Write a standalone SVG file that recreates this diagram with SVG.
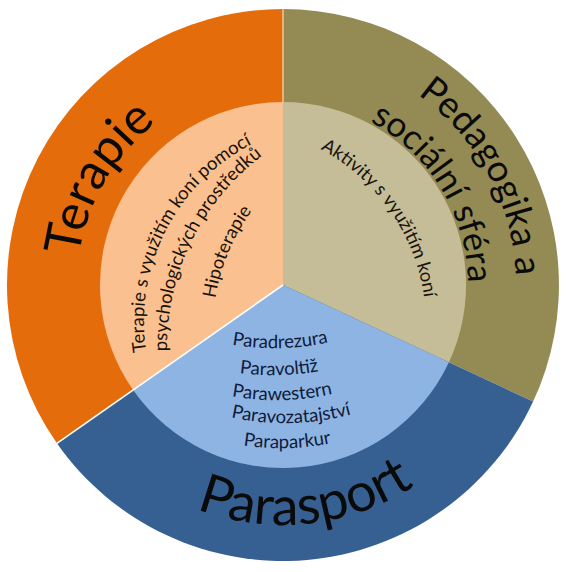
<svg xmlns="http://www.w3.org/2000/svg" xmlns:xlink="http://www.w3.org/1999/xlink" width="569" height="572" viewBox="0 0 569 572">
<style>
.lbl{font-family:Lato,"Open Sans","Liberation Sans",sans-serif;}
.outer{fill:#0a0a0a;}
.inner{fill:#1a1208;font-size:18.5px;}
.blue{fill:#0f1b3a;font-size:18.5px;}
</style>
<defs>
<path id="tp-terapie" d="M89.4,355.5 A206,206 0 0 1 247.2,82.1"/>
<path id="tp-ped" d="M329.5,56.7 A233,233 0 0 1 499.8,370.4"/>
<path id="tp-soc" d="M311,102.1 A185,185 0 0 1 458.2,344.3"/>
<path id="tp-para" d="M101.9,442.5 A240,240 0 0 0 492.9,401.4"/>
<path id="tp-i1" d="M147,356 A200,200 0 0 1 256,142"/>
<path id="tp-i2" d="M168,368 A240,240 0 0 1 276,146"/>
<path id="tp-i3" d="M215,302 A200,200 0 0 1 254,208"/>
<path id="tp-akt" d="M322,150 A200,200 0 0 1 424,296"/>
<path id="tp-b1" d="M200,337 A250,250 0 0 0 360,333"/>
<path id="tp-b2" d="M199,364 A250,250 0 0 0 359,360"/>
<path id="tp-b3" d="M202,389 A250,250 0 0 0 362,385"/>
<path id="tp-b4" d="M211,412 A250,250 0 0 0 371,408"/>
<path id="tp-b5" d="M207,437 A250,250 0 0 0 367,433"/>
</defs>
<rect width="569" height="572" fill="#ffffff"/>

<g id="terapie">
<path d="M283,285 L56.9,443.3 A276,276 0 0 1 283,9 Z" fill="#E46C0A"/>
<path d="M283,285 L133.1,390 A183,183 0 0 1 283,102 Z" fill="#FAC08F"/>
<text class="lbl outer" font-size="50"><textPath xlink:href="#tp-terapie" href="#tp-terapie" startOffset="50%" text-anchor="middle">Terapie</textPath></text>
<text class="lbl inner"><textPath xlink:href="#tp-i1" href="#tp-i1" startOffset="50%" text-anchor="middle">Terapie s využitím koní pomocí</textPath></text>
<text class="lbl inner"><textPath xlink:href="#tp-i2" href="#tp-i2" startOffset="50%" text-anchor="middle">psychologických prostředků</textPath></text>
<text class="lbl inner"><textPath xlink:href="#tp-i3" href="#tp-i3" startOffset="50%" text-anchor="middle">Hipoterapie</textPath></text>
</g>

<g id="pedagogika">
<path d="M283,285 L283,9 A276,276 0 0 1 533.1,401.6 Z" fill="#948A54"/>
<path d="M283,285 L283,102 A183,183 0 0 1 448.9,362.3 Z" fill="#C4BD97"/>
<text class="lbl outer" font-size="37"><textPath xlink:href="#tp-ped" href="#tp-ped" startOffset="50%" text-anchor="middle">Pedagogika a</textPath></text>
<text class="lbl outer" font-size="35"><textPath xlink:href="#tp-soc" href="#tp-soc" startOffset="50%" text-anchor="middle">sociální sféra</textPath></text>
<text class="lbl inner"><textPath xlink:href="#tp-akt" href="#tp-akt" startOffset="50%" text-anchor="middle">Aktivity s využitím koní</textPath></text>
</g>

<g id="parasport">
<path d="M283,285 L533.1,401.6 A276,276 0 0 1 56.9,443.3 Z" fill="#376092"/>
<path d="M283,285 L448.9,362.3 A183,183 0 0 1 133.1,390 Z" fill="#8DB4E2"/>
<text class="lbl outer" font-size="54" fill="#0b1220"><textPath xlink:href="#tp-para" href="#tp-para" startOffset="50%" text-anchor="middle">Parasport</textPath></text>
<text class="lbl blue"><textPath xlink:href="#tp-b1" href="#tp-b1" startOffset="50%" text-anchor="middle">Paradrezura</textPath></text>
<text class="lbl blue"><textPath xlink:href="#tp-b2" href="#tp-b2" startOffset="50%" text-anchor="middle">Paravoltiž</textPath></text>
<text class="lbl blue"><textPath xlink:href="#tp-b3" href="#tp-b3" startOffset="50%" text-anchor="middle">Parawestern</textPath></text>
<text class="lbl blue"><textPath xlink:href="#tp-b4" href="#tp-b4" startOffset="50%" text-anchor="middle">Paravozatajství</textPath></text>
<text class="lbl blue"><textPath xlink:href="#tp-b5" href="#tp-b5" startOffset="50%" text-anchor="middle">Paraparkur</textPath></text>
</g>

<g id="separators">
<path d="M283,285 L56.9,443.3" stroke="#ffffff" stroke-width="1.6" fill="none"/>
<path d="M283,9 L283,102" stroke="#F5DCC0" stroke-width="1.2" fill="none"/>
</g>
</svg>
